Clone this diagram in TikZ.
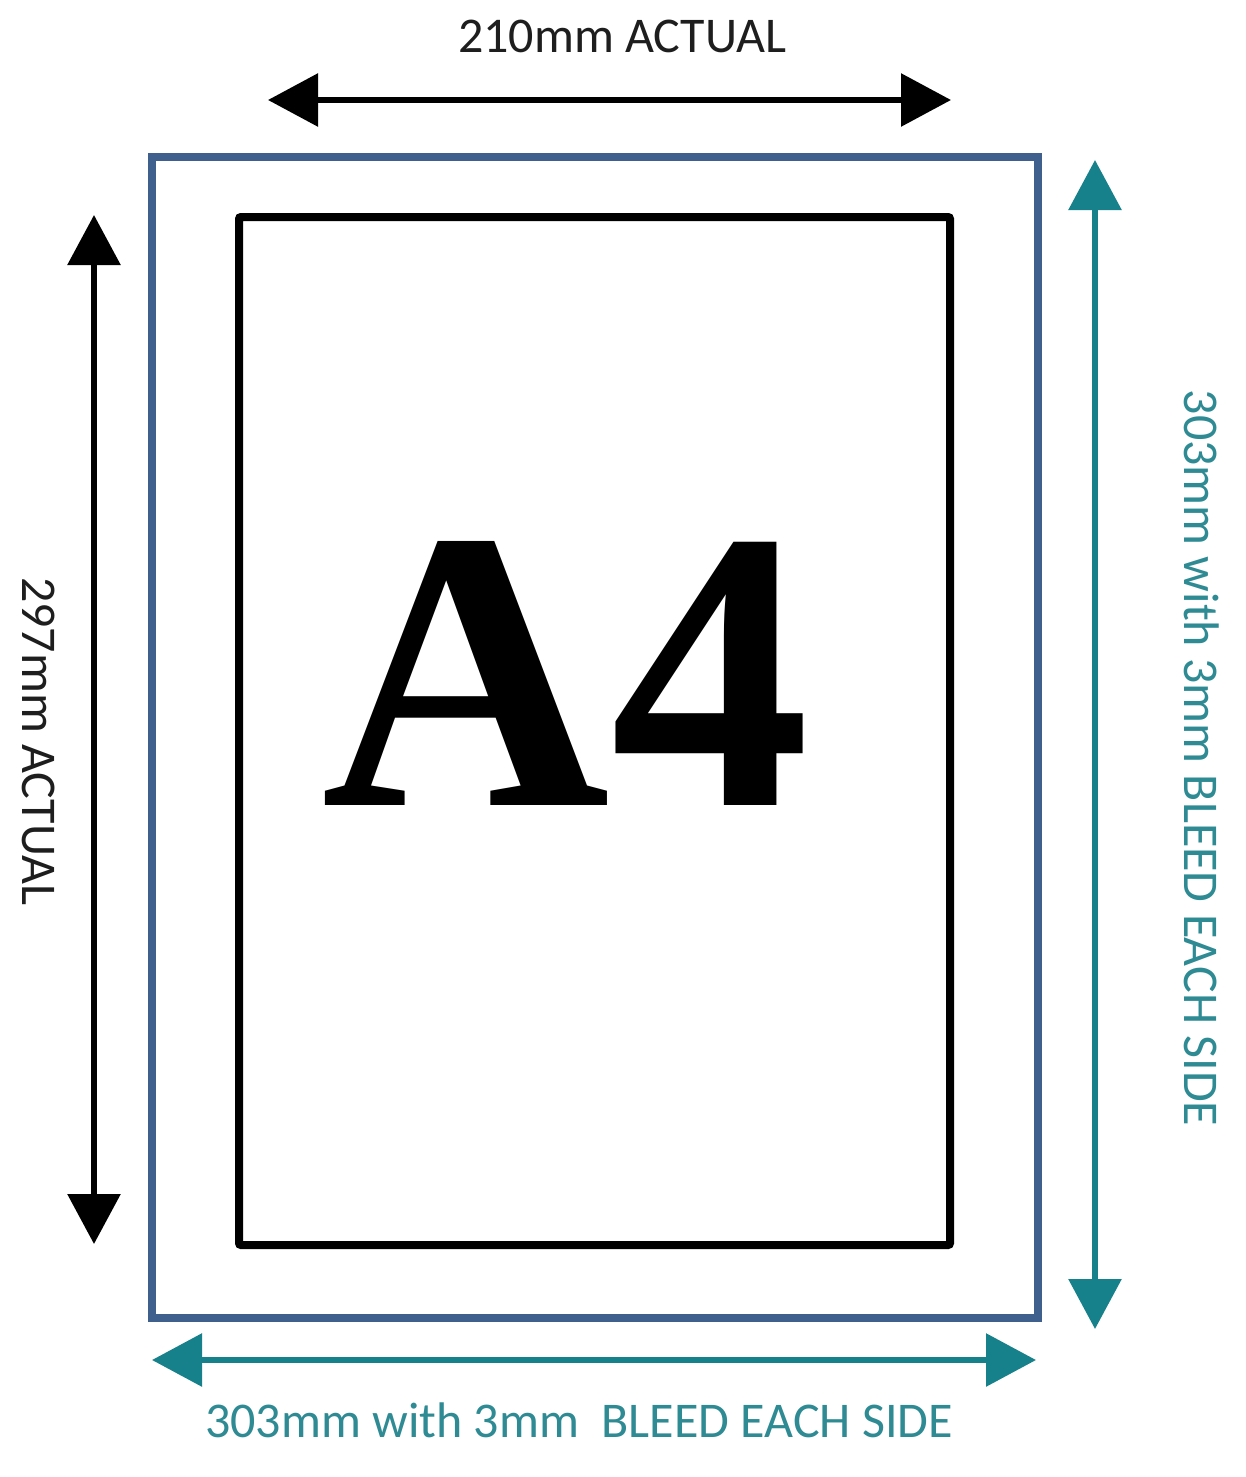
\documentclass[tikz,border=0pt]{standalone}
\usepackage{fontspec}
\setmainfont{Carlito}
\newfontfamily\bigserif{Liberation Serif}
\usetikzlibrary{arrows.meta}
\definecolor{bleedblue}{HTML}{3F5F8C}
\definecolor{tealarrow}{HTML}{16818A}
\definecolor{tealtext}{HTML}{2E8A93}
\definecolor{darktext}{HTML}{1E1E1E}
\begin{document}
\begin{tikzpicture}[x=1pt,y=-1pt,
  dimarrow/.style={line width=6pt,{Triangle[length=50pt,width=52pt]}-{Triangle[length=50pt,width=52pt]}},
  lbl/.style={font=\fontsize{50}{50}\selectfont,inner sep=0pt,anchor=base}]
\useasboundingbox (0,0) rectangle (1245,1477);
\fill[white] (0,0) rectangle (1245,1477);
% outer bleed rectangle
\node[draw=bleedblue,line width=8pt,minimum width=886pt,minimum height=1161pt,inner sep=0pt] (outer) at (595,737.5) {};
% inner A4 rectangle
\node[draw=black,line width=8pt,rounded corners=2pt,minimum width=711pt,minimum height=1028pt,inner sep=0pt] (inner) at (594.5,731) {};
% A4 text
\node[inner sep=0pt,anchor=base] (a4) at (566,805) {\bigserif\bfseries\fontsize{400}{400}\selectfont A4};
% top dimension
\coordinate (tl) at (268,100);
\coordinate (tr) at (951,100);
\draw[dimarrow,black] (tl) -- (tr);
\node[lbl,text=darktext] (toplbl) at (622,53) {210mm ACTUAL};
% left dimension
\coordinate (lt) at (94,215);
\coordinate (lb) at (94,1244);
\draw[dimarrow,black] (lt) -- (lb);
\node[lbl,text=darktext,rotate=-90] (leftlbl) at (22,741) {297mm ACTUAL};
% right dimension
\coordinate (rt) at (1095,160);
\coordinate (rb) at (1095,1329);
\draw[dimarrow,tealarrow] (rt) -- (rb);
\node[lbl,text=tealtext,rotate=-90] (rightlbl) at (1184,758) {303mm with 3mm BLEED EACH SIDE};
% bottom dimension
\coordinate (bl) at (152,1360);
\coordinate (br) at (1036,1360);
\draw[dimarrow,tealarrow] (bl) -- (br);
\node[lbl,text=tealtext] (botlbl) at (579,1437) {303mm with 3mm\ \ BLEED EACH SIDE};
\end{tikzpicture}
\end{document}
